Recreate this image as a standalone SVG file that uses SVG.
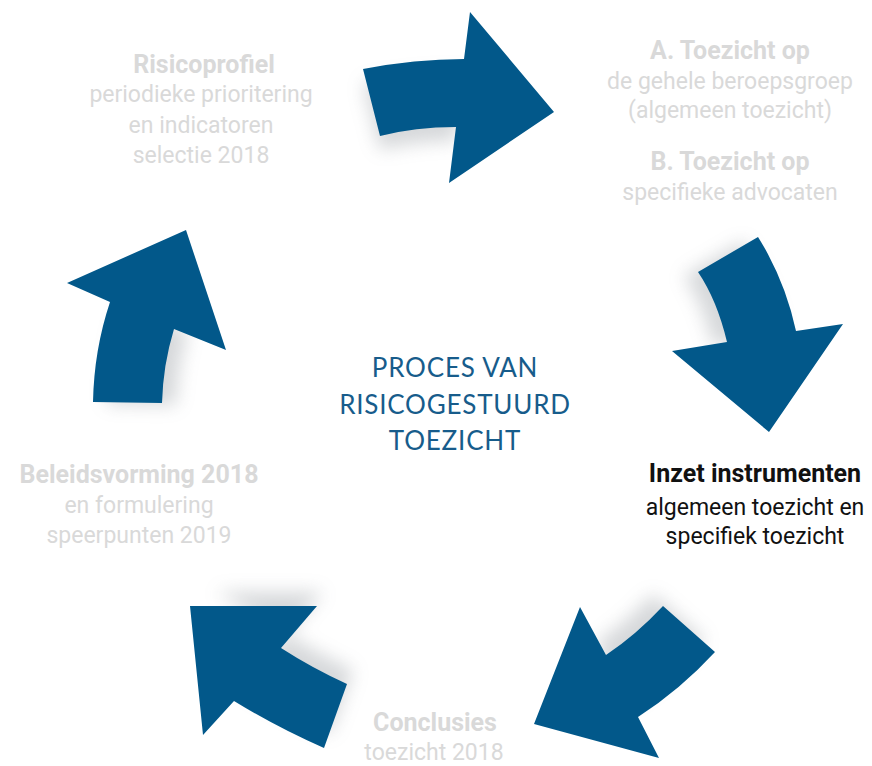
<svg xmlns="http://www.w3.org/2000/svg" width="872" height="766" viewBox="0 0 872 766">
<defs>
<style>
.arrow{fill:#02588a}
.shadow{fill:#8a9096;opacity:0.35}
.t{font-family:Roboto,"Liberation Sans",sans-serif;font-size:23px;text-anchor:middle;fill:#d9d9d9}
.b{font-weight:bold;font-size:25px}
.dark{fill:#111111}
.center{font-family:Lato,"Open Sans",sans-serif;font-size:26px;text-anchor:middle;fill:#175c8b;letter-spacing:0.8px}
</style>
<filter id="blur" x="-30%" y="-30%" width="160%" height="160%">
<feGaussianBlur stdDeviation="9"/>
</filter>
</defs>
<rect width="872" height="766" fill="#ffffff"/>
<g id="connectors">
<g id="arrow1">
<path class="shadow" filter="url(#blur)" transform="translate(0,14)" d="M363,69 Q415,59 464,59 L456,127 Q415,127 380,136 Z"/>
<path class="arrow" d="M363,69 Q415,59 464,59 L470,12 L554,112 L449,183 L456,127 Q415,127 380,136 Z"/>
</g>
<g id="arrow2">
<path class="shadow" filter="url(#blur)" transform="translate(-14,4)" d="M698,272 L758,237 Q785,280 796,331 L727,342 Q717,300 698,272 Z"/>
<path class="arrow" d="M698,272 L758,237 Q785,280 796,331 L843,324 L769,432 L672,351 L727,342 Q717,300 698,272 Z"/>
</g>
<g id="arrow3">
<path class="shadow" filter="url(#blur)" transform="translate(-10,-12)" d="M606,655 Q636,635 663,606 L715,652 Q680,690 638,717 Z"/>
<path class="arrow" d="M580,607 L606,655 Q636,635 663,606 L715,652 Q680,690 638,717 L659,758 L534,724 Z"/>
</g>
<g id="arrow4">
<path class="shadow" filter="url(#blur)" transform="translate(6,-14)" d="M281,648 Q312,668 347,684 L324,748 Q278,728 234,701 Z M210,606 L317,606 L281,648 Z"/>
<path class="arrow" d="M190,606 L317,606 L281,648 Q312,668 347,684 L324,748 Q278,728 234,701 L203,735 Z"/>
</g>
<g id="arrow5">
<path class="shadow" filter="url(#blur)" transform="translate(14,2)" d="M110,302 L174,329 Q163,365 162,403 L93,402 Q94,350 110,302 Z"/>
<path class="arrow" d="M67,283 L186,230 L226,350 L174,329 Q163,365 162,403 L93,402 Q94,350 110,302 Z"/>
</g>
</g>
<g id="center">
<text class="center" x="455" y="377">PROCES VAN</text>
<text class="center" x="455" y="414">RISICOGESTUURD</text>
<text class="center" x="455" y="450">TOEZICHT</text>
</g>
<g id="risicoprofiel">
<text class="t b" x="204" y="73">Risicoprofiel</text>
<text class="t" x="201" y="102">periodieke prioritering</text>
<text class="t" x="201" y="133">en indicatoren</text>
<text class="t" x="201" y="163">selectie 2018</text>
</g>
<g id="toezicht">
<text class="t b" x="730" y="59">A. Toezicht op</text>
<text class="t" x="730" y="89">de gehele beroepsgroep</text>
<text class="t" x="730" y="118">(algemeen toezicht)</text>
<text class="t b" x="730" y="170">B. Toezicht op</text>
<text class="t" x="730" y="200">specifieke advocaten</text>
</g>
<g id="inzet">
<text class="t b dark" x="755" y="482">Inzet instrumenten</text>
<text class="t dark" x="755" y="515">algemeen toezicht en</text>
<text class="t dark" x="755" y="544">specifiek toezicht</text>
</g>
<g id="conclusies">
<text class="t b" x="435" y="731">Conclusies</text>
<text class="t" x="434" y="760">toezicht 2018</text>
</g>
<g id="beleidsvorming">
<text class="t b" x="139" y="483">Beleidsvorming 2018</text>
<text class="t" x="139" y="513">en formulering</text>
<text class="t" x="139" y="543">speerpunten 2019</text>
</g>
</svg>
